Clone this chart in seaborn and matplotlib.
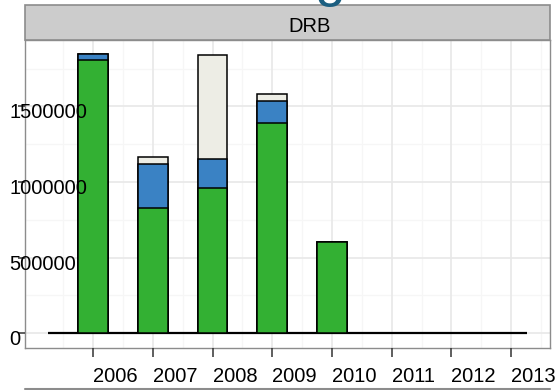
import numpy as np
import pandas as pd
import matplotlib
matplotlib.use("Agg")
import matplotlib.pyplot as plt
from matplotlib.patches import Rectangle
from matplotlib.lines import Line2D
from matplotlib.transforms import ScaledTranslation
import seaborn as sns

# Stacked yearly totals for DRB
years = [2006, 2007, 2008, 2009, 2010]
green_vals = [1808000, 826000, 960000, 1391000, 605000]
blue_vals = [40000, 293000, 192000, 145000, 0]
light_vals = [0, 48500, 689000, 47000, 0]

x_ticks = [2006, 2007, 2008, 2009, 2010, 2011, 2012, 2013]
x_labels = ["2006", "2007", "2008", "2009", "2010", "2011", "2012", "2013"]
y_ticks = [0, 500000, 1000000, 1500000]
y_labels = ["0", "500000", "1000000", "1500000"]
y_minor = [250000, 750000, 1250000, 1750000]
panel_title = "DRB"

GREEN = "#33B033"
BLUE = "#3A82C4"
LIGHT = "#EDEDE5"

sns.set_theme(style="white")
plt.rcParams["font.family"] = ["Liberation Sans", "DejaVu Sans"]

df = pd.DataFrame({"year": years, "green": green_vals, "blue": blue_vals, "light": light_vals})
df["c_green"] = df["green"]
df["c_blue"] = df["green"] + df["blue"]
df["c_light"] = df["c_blue"] + df["light"]

fig = plt.figure(figsize=(5.56, 3.90), dpi=100)
ax = fig.add_axes([25 / 556, 42 / 390, 525 / 556, 308 / 390])

# background grid drawn as plain lines so tick labels can sit above the bars
x_minor = np.arange(2005.5, 2014, 1.0)
for v in y_minor:
    ax.axhline(v, color="#F6F6F6", lw=0.9, zorder=0)
for v in x_minor:
    ax.axvline(v, color="#F6F6F6", lw=0.9, zorder=0)
for v in y_ticks:
    ax.axhline(v, color="#E8E8E8", lw=1.2, zorder=0.5)
for v in x_ticks:
    ax.axvline(v, color="#E8E8E8", lw=1.2, zorder=0.5)

# Overlapping cumulative bars give the stacked look
for col, colr in [("c_light", LIGHT), ("c_blue", BLUE), ("c_green", GREEN)]:
    sns.barplot(data=df, x="year", y=col, native_scale=True, width=0.5,
                color=colr, saturation=1, edgecolor="black", linewidth=1.1,
                errorbar=None, ax=ax, zorder=3)

# zero line across all years
ax.hlines(0, 2005.25, 2013.27, color="black", lw=1.6, zorder=2)

ax.set_xlim(2004.86, 2013.65)
ax.set_ylim(-99000, 1940000)
ax.set_xlabel("")
ax.set_ylabel("")

ax.set_xticks(x_ticks)
ax.set_xticklabels(x_labels, ha="left", fontsize=14.5, color="black")
ax.set_yticks(y_ticks)
ax.set_yticklabels(y_labels, ha="left", fontsize=14.5, color="black")
ax.minorticks_off()

ax.tick_params(axis="x", which="major", direction="out", length=6.5, width=1.1,
               color="#333333", pad=7, bottom=True)
ax.tick_params(axis="y", which="major", direction="out", length=5, width=1.1,
               color="#333333", pad=6.5, left=True)

offset = ScaledTranslation(0, -0.045, fig.dpi_scale_trans)
for lab in ax.get_yticklabels():
    lab.set_transform(lab.get_transform() + offset)

ax.grid(False)
ax.xaxis.set_zorder(5)
ax.yaxis.set_zorder(5)
for s in ax.spines.values():
    s.set_color("#8C8C8C")
    s.set_linewidth(1.0)
    s.set_zorder(5)

# facet strip
fig.add_artist(Rectangle((25 / 556, (390 - 40) / 390), 525 / 556, 35 / 390,
                         transform=fig.transFigure, facecolor="#CCCCCC",
                         edgecolor="#8C8C8C", lw=1.2))
fig.text(288 / 556, (390 - 27) / 390, panel_title, ha="left", va="center",
         fontsize=14.5, color="black")

# title glyph cut by the top edge
fig.text(0.594, 1.014, "g", fontsize=40, color="#1B5E80", ha="center", va="baseline")

# edge of the next panel strip
fig.add_artist(Line2D([25 / 556, 550 / 556], [1.5 / 390, 1.5 / 390],
                      transform=fig.transFigure, color="#8C8C8C", lw=1.5))

fig.savefig("out.png", dpi=100)
